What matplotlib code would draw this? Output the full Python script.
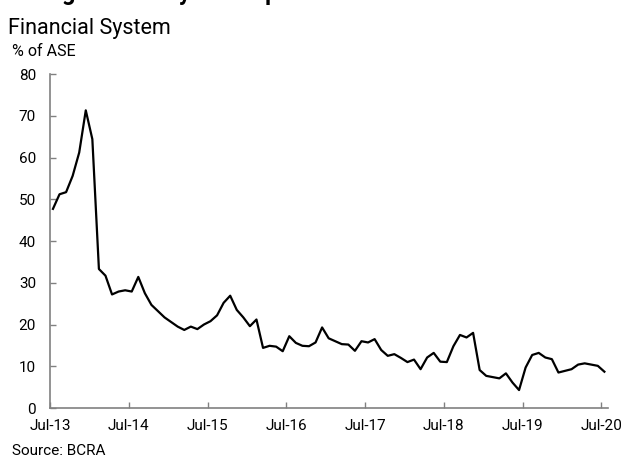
import numpy as np
import matplotlib
matplotlib.use("Agg")
import matplotlib.pyplot as plt

plt.rcParams['font.family'] = ['Roboto', 'DejaVu Sans']

# monthly series, Jul-13 .. Jul-20, % of ASE
values = [47.7, 51.2, 51.7, 55.6, 61.2, 71.3, 64.4, 33.3, 31.7, 27.2,
          27.9, 28.2, 27.9, 31.4, 27.5, 24.7, 23.2, 21.7, 20.6, 19.5,
          18.7, 19.5, 18.9, 20.0, 20.8, 22.2, 25.2, 26.9, 23.5, 21.7,
          19.6, 21.2, 14.4, 14.9, 14.7, 13.6, 17.2, 15.6, 14.9, 14.8,
          15.7, 19.3, 16.7, 16.0, 15.3, 15.2, 13.7, 16.0, 15.7, 16.5,
          13.9, 12.5, 12.9, 12.0, 11.0, 11.6, 9.3, 12.1, 13.2, 11.1,
          11.0, 14.8, 17.5, 16.9, 18.0, 9.1, 7.7, 7.4, 7.1, 8.3,
          6.1, 4.3, 9.7, 12.7, 13.2, 12.1, 11.7, 8.5, 8.9, 9.3,
          10.4, 10.7, 10.4, 10.1, 8.7]
tick_labels = ["Jul-13", "Jul-14", "Jul-15", "Jul-16", "Jul-17",
               "Jul-18", "Jul-19", "Jul-20"]
yticks = [0, 10, 20, 30, 40, 50, 60, 70, 80]

months = np.arange(len(values)) + 0.45

fig = plt.figure(figsize=(6.25, 4.57), dpi=100)
ax = fig.add_axes([0.08, 0.1072, 0.8928, 0.7308])

ax.plot(months, values, color='black', lw=1.6)

ax.set_xlim(0, 85)
ax.set_ylim(0, 80)
ax.set_yticks(yticks)
ax.set_xticks(np.arange(len(tick_labels)) * 12)
ax.set_xticklabels(tick_labels)

for side in ['top', 'right']:
    ax.spines[side].set_visible(False)
for side in ['left', 'bottom']:
    ax.spines[side].set_color('#808080')
    ax.spines[side].set_linewidth(1.2)
ax.tick_params(direction='in', length=4, color='#808080', width=1,
               labelsize=11, labelcolor='black')
ax.tick_params(axis='x', pad=8)
ax.tick_params(axis='y', pad=10)

# headings and notes
fig.text(0.013, 1.001, "Foreign Currency Net Exposure", fontsize=17,
         fontweight='bold', va='baseline', ha='left')
fig.text(0.013, 0.96, "Financial System", fontsize=15.5, va='top', ha='left')
fig.text(0.019, 0.888, "% of ASE", fontsize=11.5, va='center', ha='left')
fig.text(0.019, 0.004, "Source: BCRA", fontsize=11, va='baseline', ha='left')

fig.savefig("out.png", dpi=100)
